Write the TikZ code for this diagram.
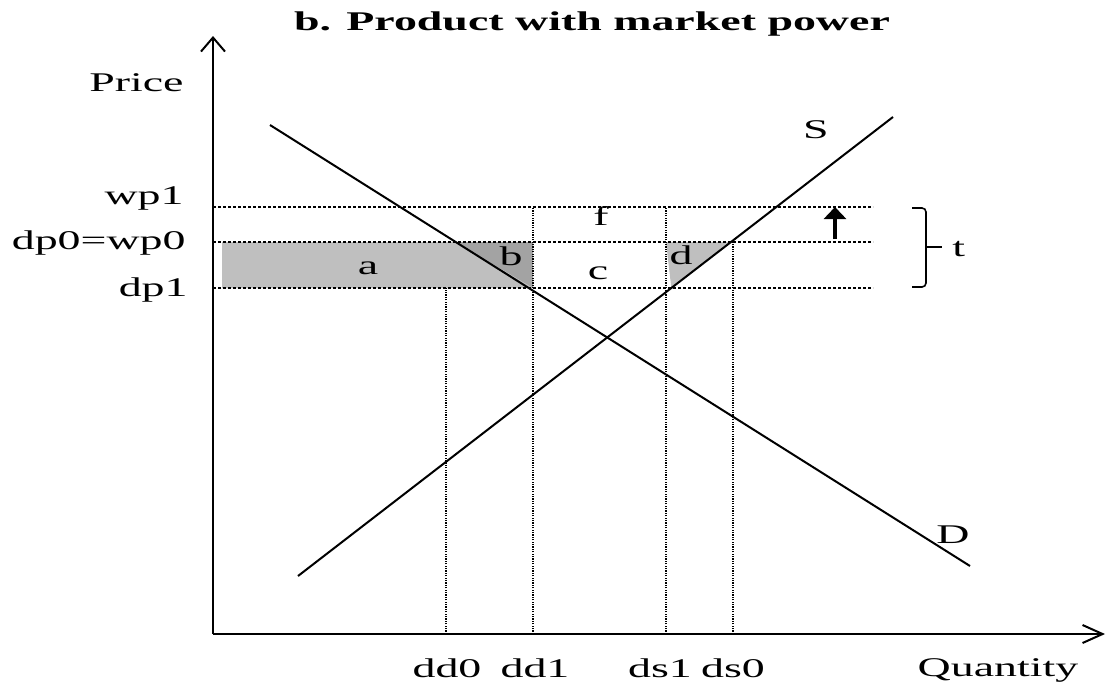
\documentclass[tikz,border=0pt]{standalone}
\usepackage{fontspec}
\setmainfont{Liberation Serif}[FakeStretch=1.7]
\usetikzlibrary{arrows.meta, positioning, calc}
\definecolor{shadea}{HTML}{BFBFBF}
\definecolor{shadeb}{HTML}{A3A3A3}

\begin{document}
\begin{tikzpicture}[x=0.5pt, y=-0.5pt, font=\fontsize{13.5}{16}\selectfont,
  axis/.style={line width=1pt},
  curve/.style={line width=1pt},
  pline/.style={line width=0.6pt, dash pattern=on 1.6pt off 0.9pt},
  qline/.style={line width=1.1pt, dash pattern=on 0.6pt off 0.6pt},
  lbl/.style={inner sep=0pt}]

\useasboundingbox (0,0) rectangle (1110,687);

% Axes
\coordinate (O) at (213,634);
\coordinate (ytop) at (213,36);
\coordinate (xend) at (1105,634);
\draw[axis, -{Straight Barb[length=7pt, width=12pt]}] (O) -- (ytop);
\draw[axis, -{Straight Barb[length=10pt, width=9pt]}] (O) -- (xend);

% Title
\node[font=\fontsize{13.5}{16}\selectfont\bfseries] (title) at (592,24)
  {b. Product with market power};

% Price levels
\coordinate (wp1L) at (213,207);  \coordinate (wp1R) at (873,207);
\coordinate (dp0L) at (213,242);  \coordinate (dp0R) at (873,242);
\coordinate (dp1L) at (213,288);  \coordinate (dp1R) at (873,288);

% Demand and supply end points
\coordinate (D1) at (270,125);  \coordinate (D2) at (970,566);
\coordinate (S1) at (298,576);  \coordinate (S2) at (893,117);

% Quantity levels
\coordinate (dd0) at (446,634);  \coordinate (dd1) at (533,634);
\coordinate (ds1) at (666,634);  \coordinate (ds0) at (733,634);

% Corners of the shaded areas
\coordinate (Dp0) at (intersection of D1--D2 and dp0L--dp0R);
\coordinate (Sp1) at (intersection of S1--S2 and dp1L--dp1R);
\coordinate (Sp0) at (intersection of S1--S2 and dp0L--dp0R);
\coordinate (b1) at (dd1 |- dp0L);
\coordinate (b2) at (dd1 |- dp1L);

% Shaded areas a, b, d
\fill[shadea] (222,242) -- (Dp0) -- (b2) -- (222,288) -- cycle;
\fill[shadeb] (Dp0) -- (b1) -- (b2) -- cycle;
\fill[shadea] (ds1 |- dp0L) -- (Sp0) -- (Sp1) -- cycle;

% Dotted guides
\draw[pline] (wp1L) -- (wp1R);
\draw[pline] (dp0L) -- (dp0R);
\draw[pline] (dp1L) -- (dp1R);
\draw[qline] (dd0) -- (dd0 |- dp1L);
\draw[qline] (dd1) -- (dd1 |- wp1L);
\draw[qline] (ds1) -- (ds1 |- wp1L);
\draw[qline] (ds0) -- (ds0 |- dp0L);

% Demand and supply
\draw[curve] (D1) -- (D2);
\draw[curve] (S1) -- (S2);
\node[lbl] (Slbl) at (816,130) {S};
\node[lbl] (Dlbl) at (953,535) {D};

% Area labels
\node[lbl] (la) at (368,268) {a};
\node[lbl] (lb) at (511,256) {b};
\node[lbl] (lc) at (598,273) {c};
\node[lbl] (ld) at (681,255) {d};
\node[lbl] (lf) at (601,216) {f};

% Price rise arrow
\coordinate (arrB) at (835,239);
\coordinate (arrT) at (835,207);
\draw[line width=2.2pt, -{Triangle[length=6pt, width=11pt]}] (arrB) -- (arrT);

% Bracket for t
\draw[line width=0.8pt, rounded corners=2pt]
  (912,208) -- (926,208) -- (926,247) -- (926,287) -- (912,287);
\draw[line width=0.8pt] (926,247) -- (942,247);
\node[lbl, anchor=west] (tlbl) at (952,249) {t};

% Axis labels
\node[lbl, anchor=east] (price) at (184,83) {Price};
\node[lbl, anchor=east] (lwp1) at (184,198) {wp1};
\node[lbl, anchor=east] (ldp0) at (186,243) {dp0=wp0};
\node[lbl, anchor=east] (ldp1) at (188,290) {dp1};
\node[lbl] (ldd0) at (447,668) {dd0};
\node[lbl] (ldd1) at (535,668) {dd1};
\node[lbl] (lds1) at (660,668) {ds1};
\node[lbl] (lds0) at (733,668) {ds0};
\node[lbl] (qty) at (998,670) {Quantity};

\end{tikzpicture}
\end{document}
